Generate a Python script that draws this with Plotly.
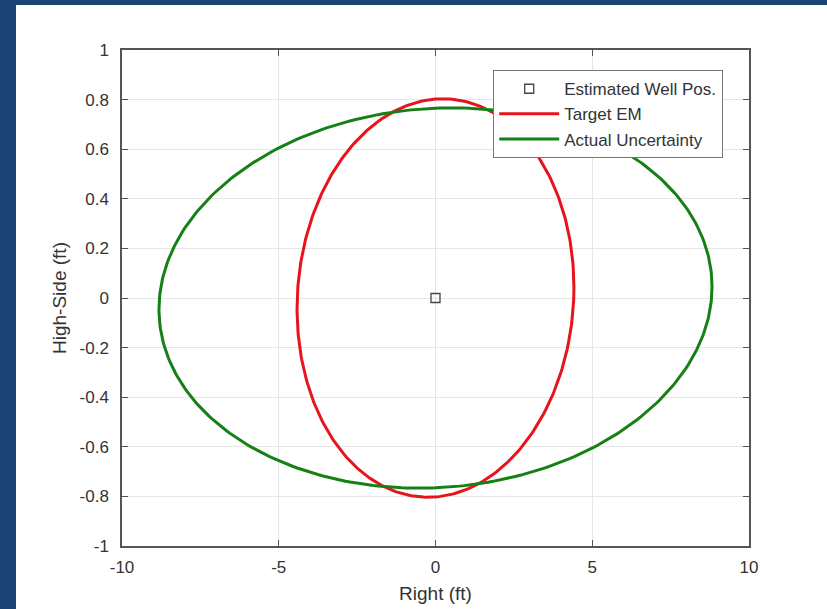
import numpy as np
import plotly.graph_objects as go

# Estimated well position (ft)
well_right = [0.0]
well_high = [0.0]

# Ellipse definitions: centre and covariance terms (ft^2)
target_center = (0.0, 0.0)
target_cov = [19.5, 0.19, 0.645]      # var_right, cov, var_high
actual_center = (0.0, 0.0)
actual_cov = [77.8, 0.40, 0.588]

x_ticks = [-10, -5, 0, 5, 10]
x_labels = ["-10", "-5", "0", "5", "10"]
y_ticks = [-1, -0.8, -0.6, -0.4, -0.2, 0, 0.2, 0.4, 0.6, 0.8, 1]
y_labels = ["-1", "-0.8", "-0.6", "-0.4", "-0.2", "0", "0.2", "0.4", "0.6", "0.8", "1"]


def ellipse(center, cov, n=361):
    c = np.array([[cov[0], cov[1]], [cov[1], cov[2]]])
    L = np.linalg.cholesky(c)
    t = np.linspace(0, 2 * np.pi, n)
    pts = L @ np.vstack([np.cos(t), np.sin(t)])
    return pts[0] + center[0], pts[1] + center[1]


tx, ty = ellipse(target_center, target_cov)
ax, ay = ellipse(actual_center, actual_cov)

fig = go.Figure()
fig.add_trace(go.Scatter(
    x=well_right, y=well_high, mode="markers", name="Estimated Well Pos.",
    marker=dict(symbol="square-open", size=9, color="#444444", line=dict(width=1.3)),
))
fig.add_trace(go.Scatter(x=tx, y=ty, mode="lines", name="Target EM",
                         line=dict(color="#e8141b", width=3)))
fig.add_trace(go.Scatter(x=ax, y=ay, mode="lines", name="Actual Uncertainty",
                         line=dict(color="#168016", width=3)))

axis_common = dict(
    showgrid=True, gridcolor="#e6e6e6", gridwidth=1,
    showline=True, linecolor="#555555", linewidth=1.5, mirror="ticks",
    ticks="inside", ticklen=6, tickcolor="#555555",
    zeroline=False, tickfont=dict(size=17, color="#333333"),
    title_font=dict(size=19, color="#333333"), automargin=False,
)

fig.update_xaxes(range=[-10, 10], tickvals=x_ticks, ticktext=x_labels,
                 title_text="Right (ft)", title_standoff=11,
                 ticklabelstandoff=5, **axis_common)
fig.update_yaxes(range=[-1, 1], tickvals=y_ticks, ticktext=y_labels,
                 title_text="High-Side (ft)", title_standoff=8,
                 ticklabelstandoff=8, **axis_common)

# plot area in pixels: left 122, right 749, top 50, bottom 546
pw, ph = 627, 496
fig.update_layout(
    width=827, height=609,
    margin=dict(l=122, r=78, t=50, b=63),
    paper_bgcolor="white", plot_bgcolor="white",
    font=dict(family="Liberation Sans, Arial, sans-serif", color="#333333"),
    showlegend=True,
    legend=dict(
        x=(493 - 122) / pw, y=(546 - 70) / ph, xanchor="left", yanchor="top",
        bgcolor="white", bordercolor="#777777", borderwidth=1.2,
        font=dict(size=17, color="#333333"), tracegroupgap=0, itemwidth=60,
    ),
    shapes=[
        # dark blue frame strips along the left and top edges
        dict(type="rect", xref="paper", yref="paper",
             x0=-122 / pw, x1=(16 - 122) / pw, y0=(546 - 609) / ph, y1=546 / ph,
             fillcolor="#1b4275", line=dict(width=0), layer="above"),
        dict(type="rect", xref="paper", yref="paper",
             x0=-122 / pw, x1=(827 - 122) / pw, y0=(546 - 5) / ph, y1=546 / ph,
             fillcolor="#1b4275", line=dict(width=0), layer="above"),
    ],
)

fig.write_html("out.html")
